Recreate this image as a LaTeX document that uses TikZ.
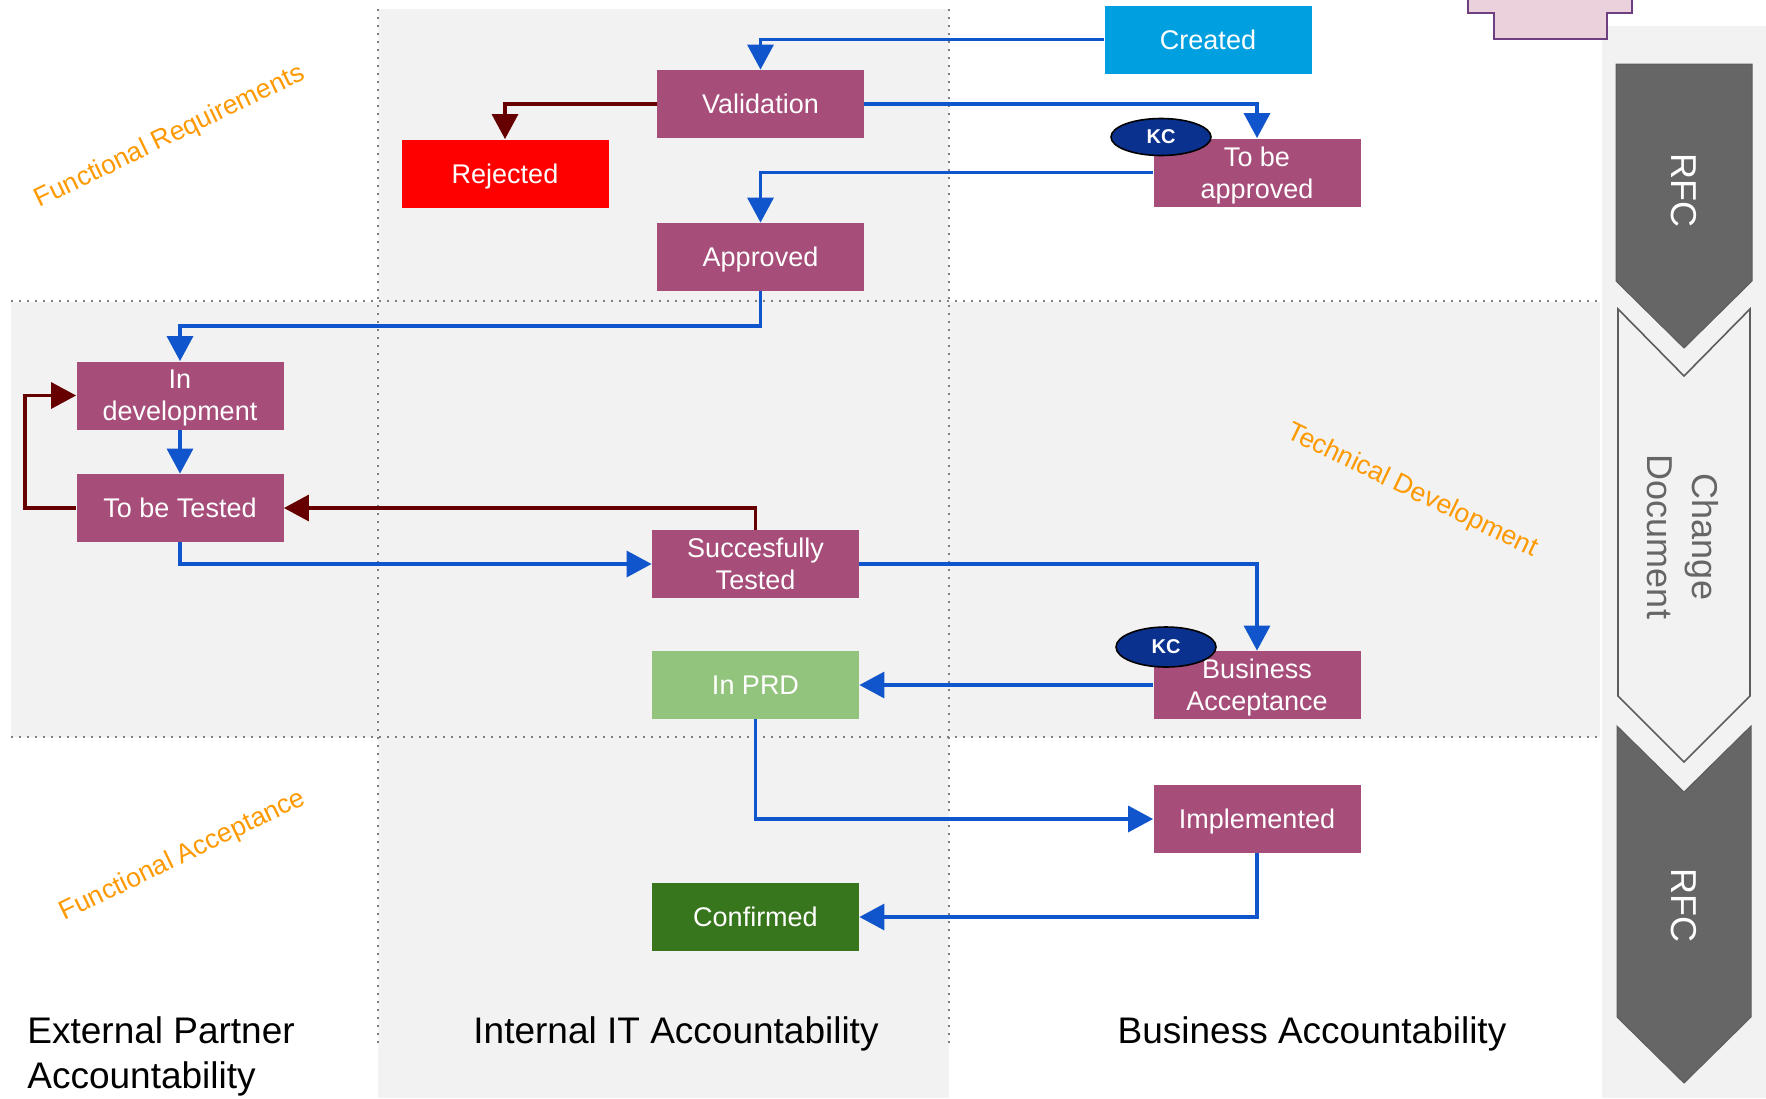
\documentclass[tikz,border=0pt]{standalone}
\usepackage{fontspec}
\setmainfont{Liberation Sans}
\usetikzlibrary{arrows.meta,shapes.geometric}
\definecolor{bgray}{HTML}{F2F2F2}
\definecolor{boxmag}{HTML}{A64D79}
\definecolor{lblue}{HTML}{1155CC}
\definecolor{dred}{HTML}{660000}
\definecolor{cyanbox}{HTML}{00A0E0}
\definecolor{redbox}{HTML}{FF0000}
\definecolor{prdgreen}{HTML}{93C47D}
\definecolor{confgreen}{HTML}{38761D}
\definecolor{kcblue}{HTML}{0B318F}
\definecolor{orangelbl}{HTML}{FF9900}
\definecolor{chev}{HTML}{666666}
\definecolor{pinkf}{HTML}{EAD1DC}
\definecolor{pinkd}{HTML}{6E3F80}
\newcommand\nodepth[1]{\raisebox{0pt}[\height][0pt]{#1}}
\begin{document}
\begin{tikzpicture}[x=0.5pt,y=-0.5pt,
  state/.style={rectangle, fill=boxmag, text=white, minimum width=103.5pt, minimum height=34pt, inner sep=0pt, align=center, font=\fontsize{13.5}{16}\selectfont},
  bluearrow/.style={draw=lblue, line width=1.7pt, -{Triangle[length=12.5pt,width=13pt]}},
  redarrow/.style={draw=dred, line width=1.7pt, -{Triangle[length=12.5pt,width=13pt]}},
  kc/.style={ellipse, fill=kcblue, draw=black, line width=0.8pt, minimum width=50pt, minimum height=18.5pt, inner sep=0pt, text=white, font=\bfseries\fontsize{10}{11}\selectfont},
  phase/.style={text=orangelbl, font=\fontsize{13.3}{15}\selectfont, inner sep=0pt},
  lane/.style={text=black, font=\fontsize{18.5}{22.5}\selectfont, inner sep=0pt},
  dotline/.style={draw=gray, line width=1pt, dash pattern=on 1pt off 3pt},
  chevfill/.style={fill=chev, draw=chev!90!black, line width=0.5pt},
  chevopen/.style={fill=bgray, draw=chev!90!black, line width=0.8pt},
  chevtext/.style={font=\fontsize{18}{22.5}\selectfont, inner sep=0pt, align=center}
]
\useasboundingbox (0,0) rectangle (1766,1098);
\fill[white] (0,0) rectangle (1766,1098);
% background bands
\fill[bgray] (378,9) rectangle (949,1098);
\fill[bgray] (11,302) rectangle (1600,737);
\fill[bgray] (1602,26) rectangle (1766,1098);
% dotted separators
\draw[dotline] (11,301) -- (1600,301);
\draw[dotline] (11,737) -- (1600,737);
\draw[dotline] (378,9) -- (378,1044);
\draw[dotline] (949,9) -- (949,1044);
% pink partial shape at top
\draw[fill=pinkf, draw=pinkd, line width=0.8pt] (1468,-2) -- (1468,13) -- (1494,13) -- (1494,39) -- (1607,39) -- (1607,13) -- (1632,13) -- (1632,-2);
% chevrons
\draw[chevfill] (1616,64) -- (1752,64) -- (1752,281) -- (1684,348) -- (1616,281) -- cycle;
\draw[chevopen] (1618,309) -- (1684,376) -- (1750,309) -- (1750,696) -- (1684,762) -- (1618,696) -- cycle;
\draw[chevfill] (1617,726) -- (1684,792) -- (1751,726) -- (1751,1017) -- (1684,1083) -- (1617,1017) -- cycle;
\node[chevtext, text=white, rotate=-90] (rfc1) at (1684,190) {RFC};
\node[chevtext, text=chev, rotate=-90] (chdoc) at (1683,537) {Change\\Document};
\node[chevtext, text=white, rotate=-90] (rfc2) at (1684,905) {RFC};
% state boxes
\node[state, fill=cyanbox] (created) at (1208,39.5) {Created};
\node[state] (valid) at (760.5,104) {Validation};
\node[state, fill=redbox] (rej) at (505,173.5) {\nodepth{Rejected}};
\node[state] (tba) at (1257,172.5) {To be\\\nodepth{approved}};
\node[state] (appr) at (760.5,257) {\nodepth{Approved}};
\node[state] (indev) at (180,395.5) {In\\\nodepth{development}};
\node[state] (tbt) at (180,508) {To be Tested};
\node[state] (st) at (755.5,564) {Succesfully\\Tested};
\node[state, fill=prdgreen] (prd) at (755.5,685) {In PRD};
\node[state] (ba) at (1257,685) {Business\\\nodepth{Acceptance}};
\node[state] (impl) at (1257,819) {\nodepth{Implemented}};
\node[state, fill=confgreen] (conf) at (755.5,917) {Confirmed};
% helper coordinates
\coordinate (bendA) at (760.5,326);
\coordinate (loopL) at (25,508);
% connectors
\draw[bluearrow] (created.west) -| (valid.north);
\draw[redarrow] (valid.west) -| (rej.north);
\draw[bluearrow] (valid.east) -| (tba.north);
\draw[bluearrow] (tba.west) -| (appr.north);
\draw[bluearrow] (appr.south) -- (bendA) -| (indev.north);
\draw[bluearrow] (indev.south) -- (tbt.north);
\draw[redarrow] (tbt.west) -- (loopL) |- (indev.west);
\draw[redarrow] (st.north) |- (tbt.east);
\draw[bluearrow] (tbt.south) |- (st.west);
\draw[bluearrow] (st.east) -| (ba.north);
\draw[bluearrow] (ba.west) -- (prd.east);
\draw[bluearrow] (prd.south) |- (impl.west);
\draw[bluearrow] (impl.south) |- (conf.east);
% KC badges
\node[kc] (kc1) at (1161,137) {KC};
\node[kc, minimum height=20pt] (kc2) at (1166,647) {KC};
% phase labels
\node[phase, rotate=25.8] (fr) at (170,137) {Functional Requirements};
\node[phase, rotate=-25.8] (td) at (1412,491) {Technical Development};
\node[phase, rotate=25.8] (fa) at (183,856) {Functional Acceptance};
% lane labels
\node[lane, anchor=base west] (ext1) at (27,1043) {External Partner};
\node[lane, anchor=base west] (ext2) at (27,1088) {Accountability};
\node[lane, anchor=base] (int) at (676,1043) {Internal IT Accountability};
\node[lane, anchor=base] (bus) at (1312,1043) {Business Accountability};
\end{tikzpicture}
\end{document}
